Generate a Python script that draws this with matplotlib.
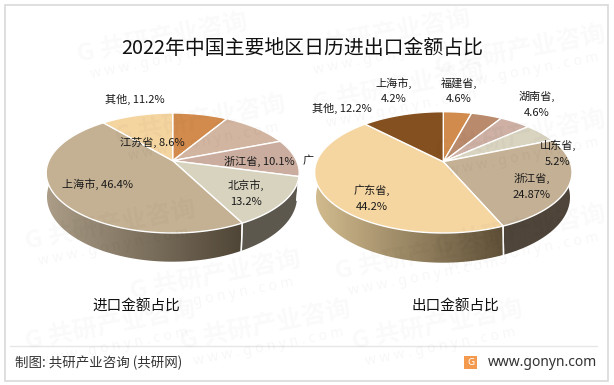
#!/usr/bin/env python3
"""Import / export share pies for major Chinese regions, drawn as perspective 3D discs."""

import matplotlib

matplotlib.use("Agg")
import matplotlib.pyplot as plt
import numpy as np
from matplotlib.colors import to_rgb
from matplotlib.patches import Polygon, Rectangle

plt.rcParams["font.family"] = ["Noto Sans CJK SC", "DejaVu Sans"]

# left pie, clockwise from 12 o'clock
import_names = ["江苏省", "广东省", "浙江省", "北京市", "上海市", "其他"]
import_values = [8.6, 10.5, 10.1, 13.2, 46.4, 11.2]
import_colors = ["#D28B4C", "#D2B5A0", "#CBADA0", "#D8D3BF", "#C4B092", "#F4D5A0"]
import_sides = [("#8A5C33", "#8A5C33"), ("#8A7768", "#8A7768"), ("#857268", "#857268"),
                ("#5D584E", "#5D584E"), ("#4F4536", "#AB9D87"), ("#A08C69", "#A08C69")]

# right pie
export_names = ["上海市", "福建省", "湖南省", "山东省", "浙江省", "广东省", "其他"]
export_values = [4.2, 4.6, 4.6, 5.2, 24.87, 44.2, 12.2]
export_colors = ["#D18C4D", "#B98A6B", "#CEB0A4", "#D9D4C0", "#C4B094", "#F5D5A0", "#85501F"]
export_sides = [("#8A5C33", "#8A5C33"), ("#7A5B46", "#7A5B46"), ("#87736B", "#87736B"),
                ("#8E8B7E", "#8E8B7E"), ("#4F453A", "#4F453A"), ("#5F5038", "#D2BB8E"),
                ("#57351A", "#57351A")]

watermarks = [(162, 38), (385, 34), (520, 50), (398, 87), (200, 120), (520, 135), (110, 225),
              (520, 230), (420, 255), (215, 275), (110, 325), (437, 325), (265, 325)]


def disc(theta, cx, apex_y, half_w, up, down):
    """Project points of a circle to pixels; apex_y is where the pie centre lands."""
    b = 2 / (1 / up + 1 / down)
    k = b / up - 1
    a = half_w * np.sqrt(1 - k**2)
    x, y = np.sin(theta), np.cos(theta)
    w = 1 + k * y
    return cx + a * x / w, apex_y - b * y / w


def draw_pie(ax, values, colors, sides, top, bottom):
    edges = np.radians(np.cumsum([0] + list(values)) / sum(values) * 360)

    # rim first, the top surface covers whatever faces away
    for i, (start, end) in enumerate(sides):
        t1, t2 = edges[i], edges[i + 1]
        if t2 < np.radians(70) or t1 > np.radians(295):
            continue
        steps = np.linspace(t1, t2, 90)
        tx, ty = disc(steps, *top)
        bx, by = disc(steps, *bottom)
        xs = np.r_[tx, bx[::-1]]
        ys = np.r_[ty, by[::-1]]
        frac = np.linspace(0, 1, 256)[:, None]
        grad = (np.array(to_rgb(end)) * (1 - frac) + np.array(to_rgb(start)) * frac)[None, :, :]
        im = ax.imshow(grad, extent=(xs.min(), xs.max(), ys.max(), ys.min()), aspect="auto", zorder=2)
        im.set_clip_path(Polygon(np.c_[xs, ys], closed=True, transform=ax.transData))
        for t in (t1, t2):
            if np.radians(100) < t < np.radians(260):
                px0, py0 = disc(t, *top)
                px1, py1 = disc(t, *bottom)
                ax.plot([px0, px1], [py0, py1], color="white", lw=1, zorder=3)

    for i, c in enumerate(colors):
        steps = np.linspace(edges[i], edges[i + 1], 80)
        px, py = disc(steps, *top)
        ax.fill(np.r_[top[0], px], np.r_[top[1], py], facecolor=c, edgecolor="white", lw=1,
                joinstyle="round", zorder=4)


fig = plt.figure(figsize=(6.14, 3.85), dpi=100)
ax = fig.add_axes([0, 0, 1, 1])
ax.axis("off")

draw_pie(ax, import_values, import_colors, import_sides,
         (172.7, 160.7, 126.5, 47.7, 72.3), (172.0, 183.0, 125.0, 51.0, 78.7))
draw_pie(ax, export_values, export_colors, export_sides,
         (443.3, 161.7, 128.7, 50.0, 71.3), (443.0, 184.0, 127.0, 52.0, 78.7))

# imshow moves the limits, so set them after the pies
ax.set_xlim(0, 614)
ax.set_ylim(385, 0)

ax.text(302, 49, "2022年中国主要地区日历进出口金额占比", fontsize=14.3, ha="center", va="center", color="#111111")

label_kw = dict(fontsize=8, ha="center", va="center", color="#1A1A1A", zorder=6)
ax.text(135, 99, f"{import_names[5]}, {import_values[5]}%", **label_kw)
ax.text(152, 142, f"{import_names[0]}, {import_values[0]}%", **label_kw)
ax.text(259, 161, f"{import_names[2]}, {import_values[2]}%", **label_kw)
ax.text(246, 185, f"{import_names[3]},", **label_kw)
ax.text(246, 202, f"{import_values[3]}%", **label_kw)
ax.text(98, 184, f"{import_names[4]}, {import_values[4]}%", **label_kw)

# this label runs under the right chart in the original, only its first glyph shows
hidden = ax.text(303, 160, f"{import_names[1]}, {import_values[1]}%", fontsize=8, ha="left", va="center",
                 color="#1A1A1A", zorder=6)
hidden.set_clip_path(Rectangle((300, 150), 14, 20, transform=ax.transData))
hidden.set_clip_on(True)

ax.text(394, 83, f"{export_names[0]},", **label_kw)
ax.text(394, 99, f"{export_values[0]}%", **label_kw)
ax.text(459, 83, f"{export_names[1]},", **label_kw)
ax.text(459, 99, f"{export_values[1]}%", **label_kw)
ax.text(537, 96, f"{export_names[2]},", **label_kw)
ax.text(537, 113, f"{export_values[2]}%", **label_kw)
ax.text(558, 145, f"{export_names[3]},", **label_kw)
ax.text(558, 162, f"{export_values[3]}%", **label_kw)
ax.text(532, 178, f"{export_names[4]},", **label_kw)
ax.text(532, 195, f"{export_values[4]}%", **label_kw)
ax.text(372, 190, f"{export_names[5]},", **label_kw)
ax.text(372, 207, f"{export_values[5]}%", **label_kw)
ax.text(342, 108, f"{export_names[6]}, {export_values[6]}%", **label_kw)

ax.text(136, 307, "进口金额占比", fontsize=10.5, ha="center", va="center", color="#111111")
ax.text(455, 307, "出口金额占比", fontsize=10.5, ha="center", va="center", color="#111111")

# frame and footer
ax.add_patch(Rectangle((4.5, 4.5), 603.5, 376.5, fill=False, edgecolor="#D9D9D9", lw=1.2, zorder=7))
ax.plot([10, 597], [346, 346], color="#E6E6E6", lw=1, zorder=1)
ax.text(15, 363, "制图: 共研产业咨询 (共研网)", fontsize=9.7, ha="left", va="center", color="#333333")
ax.text(597, 362, "www.gonyn.com", fontsize=10, ha="right", va="center", color="#333333",
        family=["Noto Sans", "DejaVu Sans"])
ax.add_patch(Rectangle((464, 356), 13, 13, facecolor="#F39A4E", edgecolor="none", zorder=5))
ax.text(470.5, 362.5, "G", fontsize=7, fontweight="bold", ha="center", va="center", color="white", zorder=6,
        family=["Noto Sans", "DejaVu Sans"])

# faint site watermark repeated over everything
for wx, wy in watermarks:
    ax.text(wx, wy, "G 共研产业咨询", fontsize=18, fontweight="bold", rotation=11, ha="center", va="center",
            color="black", alpha=0.025, zorder=8)
    ax.text(wx + 4, wy + 22, "w w w . g o n y n . c o m", fontsize=10, rotation=11, ha="center", va="center",
            color="black", alpha=0.035, zorder=8, family=["Noto Sans", "DejaVu Sans"])

plt.savefig("out.png", dpi=100)
plt.close()
